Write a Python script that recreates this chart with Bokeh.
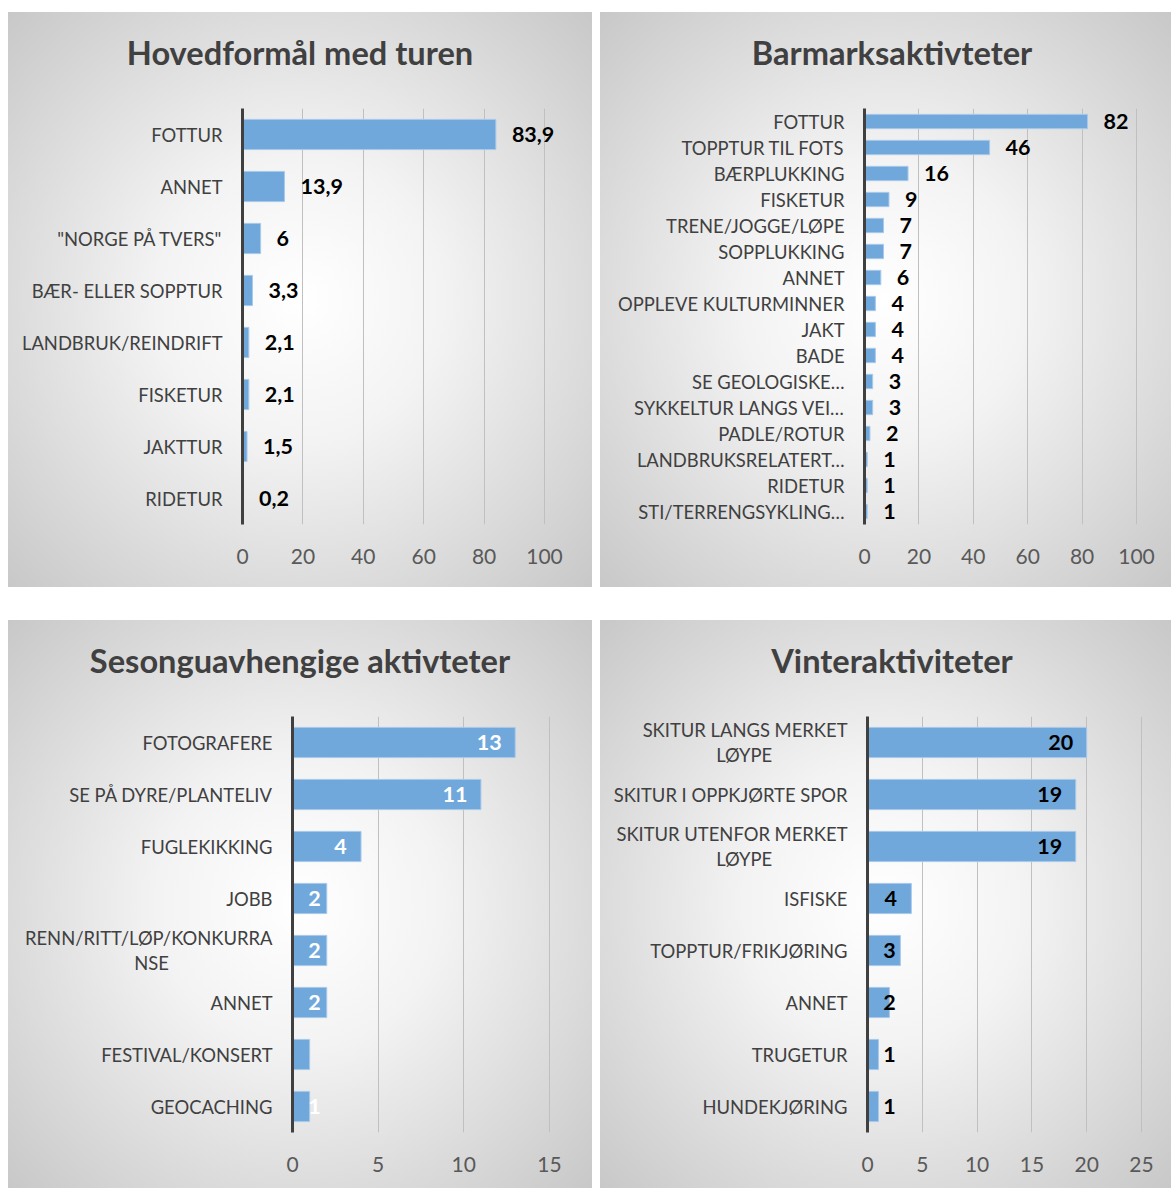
from bokeh.plotting import figure
from bokeh.models import Div, FixedTicker, ColumnDataSource, Range1d, FactorRange, Spacer
from bokeh.layouts import column, row
from bokeh.embed import file_html
from bokeh.resources import INLINE
from bokeh.core.properties import value

# ---------------- data ----------------
hoved_title = "Hovedformål med turen"
hoved_cats = ["FOTTUR", "ANNET", "\"NORGE PÅ TVERS\"", "BÆR- ELLER SOPPTUR",
              "LANDBRUK/REINDRIFT", "FISKETUR", "JAKTTUR", "RIDETUR"]
hoved_vals = [83.9, 13.9, 6, 3.3, 2.1, 2.1, 1.5, 0.2]
hoved_ticks = [0, 20, 40, 60, 80, 100]

barmark_title = "Barmarksaktivteter"
barmark_cats = ["FOTTUR", "TOPPTUR TIL FOTS", "BÆRPLUKKING", "FISKETUR",
                "TRENE/JOGGE/LØPE", "SOPPLUKKING", "ANNET", "OPPLEVE KULTURMINNER",
                "JAKT", "BADE", "SE GEOLOGISKE…", "SYKKELTUR LANGS VEI…",
                "PADLE/ROTUR", "LANDBRUKSRELATERT…", "RIDETUR", "STI/TERRENGSYKLING…"]
barmark_vals = [82, 46, 16, 9, 7, 7, 6, 4, 4, 4, 3, 3, 2, 1, 1, 1]
barmark_ticks = [0, 20, 40, 60, 80, 100]

sesong_title = "Sesonguavhengige aktivteter"
sesong_cats = ["FOTOGRAFERE", "SE PÅ DYRE/PLANTELIV", "FUGLEKIKKING", "JOBB",
               "RENN/RITT/LØP/KONKURRA\nNSE", "ANNET", "FESTIVAL/KONSERT", "GEOCACHING"]
sesong_vals = [13, 11, 4, 2, 2, 2, 1, 1]
sesong_hidden_labels = ["FESTIVAL/KONSERT"]
sesong_ticks = [0, 5, 10, 15]

vinter_title = "Vinteraktiviteter"
vinter_cats = ["SKITUR LANGS MERKET\nLØYPE", "SKITUR I OPPKJØRTE SPOR",
               "SKITUR UTENFOR MERKET\nLØYPE", "ISFISKE", "TOPPTUR/FRIKJØRING",
               "ANNET", "TRUGETUR", "HUNDEKJØRING"]
vinter_vals = [20, 19, 19, 4, 3, 2, 1, 1]
vinter_ticks = [0, 5, 10, 15, 20, 25]

# ---------------- style ----------------
FONT = "Lato"
BAR = "#70a8dc"
BG = "radial-gradient(circle at 50% 50%, #ffffff 0%, #f3f3f3 35%, #c8c8c8 100%)"
NBSP = "\u00a0"


def fmt(v):
    if float(v).is_integer():
        return str(int(v))
    return str(v).replace(".", ",")


def center_second_line(label, pad):
    # Excel centres the wrapped line under the first one
    if "\n" not in label:
        return label
    a, b = label.split("\n")
    return a + "\n" + b + NBSP * pad


TITLE_H = 80
TOP = 16
FRAME_H = 416


def panel(title, cats, vals, ticks, width, height, axis_off, scale, mode,
          bar_h, label_color, hidden=(), title_shift=0, pads=None):
    div = Div(text=title, width=width, height=TITLE_H, margin=0,
              styles={"font-family": FONT, "font-size": "32.6px", "font-weight": "bold",
                      "color": "#404040", "text-align": "center",
                      "line-height": "81px", "text-indent": f"{title_shift}px"})
    fig_h = height - TITLE_H
    frame_w = width - axis_off - 10
    x_end = frame_w / scale
    disp = [center_second_line(c, (pads or {}).get(c, 0)) for c in cats]
    p = figure(y_range=FactorRange(*reversed(disp)), x_range=Range1d(0, x_end),
               width=width, height=fig_h, output_backend="svg", toolbar_location=None,
               min_border_left=axis_off, min_border_right=10, min_border_top=TOP,
               min_border_bottom=fig_h - TOP - FRAME_H,
               border_fill_color=None, background_fill_color=None,
               outline_line_color=None)

    labels = [("" if c in hidden else fmt(v)) for c, v in zip(cats, vals)]
    if mode == "outside":
        xo = [16] * len(vals)
        align = "left"
    else:
        xo = [max(-15 - 5.5 * len(t), 22 - v * scale) for t, v in zip(labels, vals)]
        align = "center"
    src = ColumnDataSource(dict(cat=disp, val=vals, lab=labels, xo=xo))

    p.hbar(y="cat", left=0, right="val", height=bar_h, source=src,
           fill_color=BAR, line_color="#a9c9ea", line_width=1)
    p.text(x="val", y="cat", text="lab", x_offset="xo", source=src,
           text_align=align, text_baseline="middle", text_font=value(FONT),
           text_font_style="bold", text_font_size="21.5px", text_color=label_color)

    p.xaxis.ticker = FixedTicker(ticks=ticks)
    p.xaxis.axis_line_color = None
    p.xaxis.major_tick_line_color = None
    p.xaxis.major_tick_out = 0
    p.xaxis.major_tick_in = 0
    p.xaxis.minor_tick_line_color = None
    p.xaxis.major_label_text_font = FONT
    p.xaxis.major_label_text_font_size = "21px"
    p.xaxis.major_label_text_color = "#595959"
    p.xaxis.major_label_standoff = 24

    p.yaxis.axis_line_color = "#404040"
    p.yaxis.axis_line_width = 3
    p.yaxis.major_tick_line_color = None
    p.yaxis.major_tick_out = 0
    p.yaxis.major_tick_in = 0
    p.yaxis.minor_tick_line_color = None
    p.yaxis.major_label_text_font = FONT
    p.yaxis.major_label_text_font_size = "18.4px"
    p.yaxis.major_label_text_color = "#404040"
    p.yaxis.major_label_text_line_height = 1.15
    p.yaxis.major_label_standoff = 20

    p.xgrid.ticker = FixedTicker(ticks=ticks[1:])
    p.xgrid.grid_line_color = "#c0c0c0"
    p.xgrid.grid_line_width = 1
    p.ygrid.grid_line_color = None

    return column(div, p, styles={"background": BG})


W_L, W_R = 584, 571
H_T, H_B = 575, 568

tl = panel(hoved_title, hoved_cats, hoved_vals, hoved_ticks, W_L, H_T, 234,
           3.02, "outside", 0.58, "black")
tr = panel(barmark_title, barmark_cats, barmark_vals, barmark_ticks, W_R, H_T, 264,
           2.72, "outside", 0.55, "black", title_shift=13)
bl = panel(sesong_title, sesong_cats, sesong_vals, sesong_ticks, W_L, H_B, 284,
           17.13, "inside", 0.58, "white", hidden=sesong_hidden_labels,
           pads={"RENN/RITT/LØP/KONKURRA\nNSE": 22})
br = panel(vinter_title, vinter_cats, vinter_vals, vinter_ticks, W_R, H_B, 267,
           10.96, "inside", 0.58, "black", title_shift=13,
           pads={"SKITUR LANGS MERKET\nLØYPE": 16, "SKITUR UTENFOR MERKET\nLØYPE": 16})

layout = column(Spacer(height=12),
                row(Spacer(width=8), tl, Spacer(width=8), tr),
                Spacer(height=33),
                row(Spacer(width=8), bl, Spacer(width=8), br))

open("out.html", "w").write(file_html(layout, INLINE))
